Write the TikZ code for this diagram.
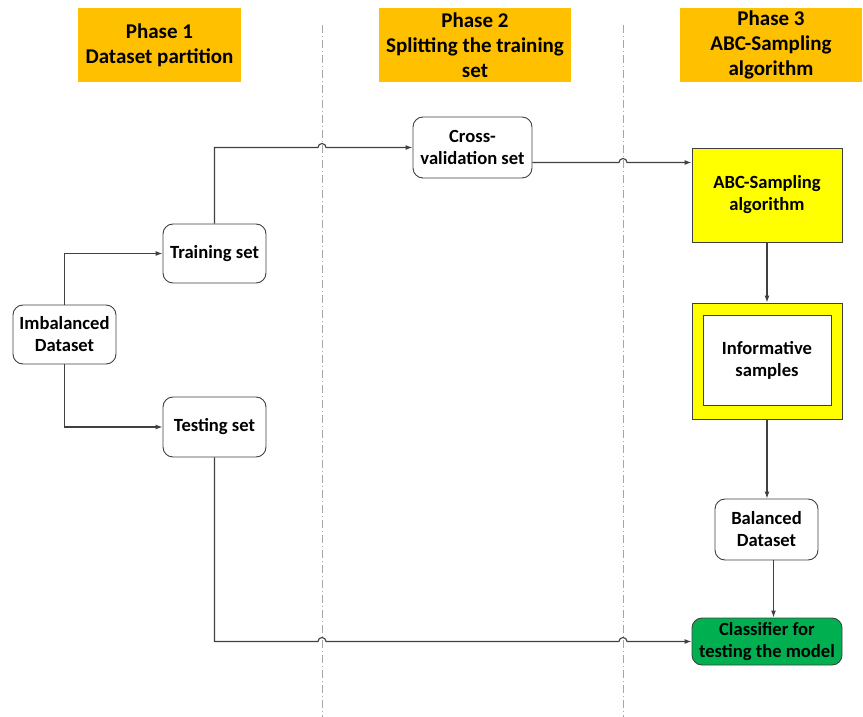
\documentclass[tikz,border=0pt]{standalone}
\usepackage{fontspec}
\setmainfont{Carlito}
\usetikzlibrary{arrows.meta,calc}
\definecolor{phasebg}{HTML}{FFC000}
\definecolor{abcyellow}{HTML}{FFFF00}
\definecolor{clsgreen}{HTML}{00B050}
\definecolor{edge}{HTML}{404040}
\definecolor{lane}{HTML}{A6A6A6}
\begin{document}
\begin{tikzpicture}[x=1pt,y=-1pt,
  phase/.style={fill=phasebg, draw=none, align=center, inner sep=0pt,
    minimum height=74pt, font=\bfseries\fontsize{21}{25}\selectfont},
  box/.style={draw=edge, line width=0.9pt, rounded corners=10pt, fill=white,
    align=center, inner sep=0pt, font=\bfseries\fontsize{18.6}{22}\selectfont},
  sqbox/.style={box, rounded corners=0pt},
  conn/.style={draw=edge, line width=1.1pt, -{Latex[length=7pt,width=5pt]}},
  lanesep/.style={draw=lane, line width=0.8pt, dash pattern=on 8pt off 3pt on 1pt off 3pt}]
\useasboundingbox (0,0) rectangle (863,717);

% phase headers
\node[phase, minimum width=163pt] (p1) at (159.5,45) {Phase 1\\Dataset partition};
\node[phase, minimum width=192pt] (p2) at (475,45) {Phase 2\\Splitting the training\\set};
\node[phase, minimum width=182pt] (p3) at (771,45) {Phase 3\\ABC-Sampling\\algorithm};

% lane separators
\coordinate (d1top) at (322,25);
\coordinate (d1bot) at (322,717);
\coordinate (d2top) at (623,25);
\coordinate (d2bot) at (623,717);
\draw[lanesep] (d1top) -- (d1bot);
\draw[lanesep] (d2top) -- (d2bot);

% nodes
\node[box, minimum width=103pt, minimum height=59pt] (imb) at (64.5,334.5) {Imbalanced\\Dataset};
\node[box, minimum width=103pt, minimum height=59pt] (train) at (214.5,253.5) {Training set};
\node[box, minimum width=103pt, minimum height=60pt] (test) at (214.5,427) {Testing set};
\node[box, minimum width=119pt, minimum height=61pt] (cv) at (472.5,147.5) {Cross-\\validation set};
\node[sqbox, fill=abcyellow, minimum width=150pt, minimum height=94pt] (abc) at (767,195) {ABC-Sampling\\algorithm};
\node[sqbox, fill=abcyellow, minimum width=150pt, minimum height=116pt] (infobox) at (767,361) {};
\node[sqbox, minimum width=128pt, minimum height=90pt] (info) at (767,360) {Informative\\samples};
\node[box, minimum width=103pt, minimum height=61pt] (bal) at (766.5,529.5) {Balanced\\Dataset};
\node[box, fill=clsgreen, minimum width=150pt, minimum height=47pt] (cls) at (767,641.5) {Classifier for\\testing the model};

% connectors
\draw[conn] (imb.north) |- (train.west);
\draw[conn] (imb.south) |- (test.west);
\draw[conn] (train.north) |- ([xshift=-4pt]d1top |- cv.west)
  arc[start angle=180, end angle=0, radius=4pt] -- (cv.west);
\coordinate (cvout) at ($(cv.east)+(0,15)$);
\draw[conn] (cvout) -- ([xshift=-4pt]d2top |- cvout)
  arc[start angle=180, end angle=0, radius=4pt] -- (abc.west |- cvout);
\draw[conn] (abc.south) -- (infobox.north);
\draw[conn] (infobox.south) -- (infobox.south |- bal.north);
\coordinate (balout) at ($(bal.south)+(7,0)$);
\draw[conn] (balout) -- (balout |- cls.north);
\draw[conn] (test.south) |- ([xshift=-4pt]d1top |- cls.west)
  arc[start angle=180, end angle=0, radius=4pt] -- ([xshift=-4pt]d2top |- cls.west)
  arc[start angle=180, end angle=0, radius=4pt] -- (cls.west);
\end{tikzpicture}
\end{document}
